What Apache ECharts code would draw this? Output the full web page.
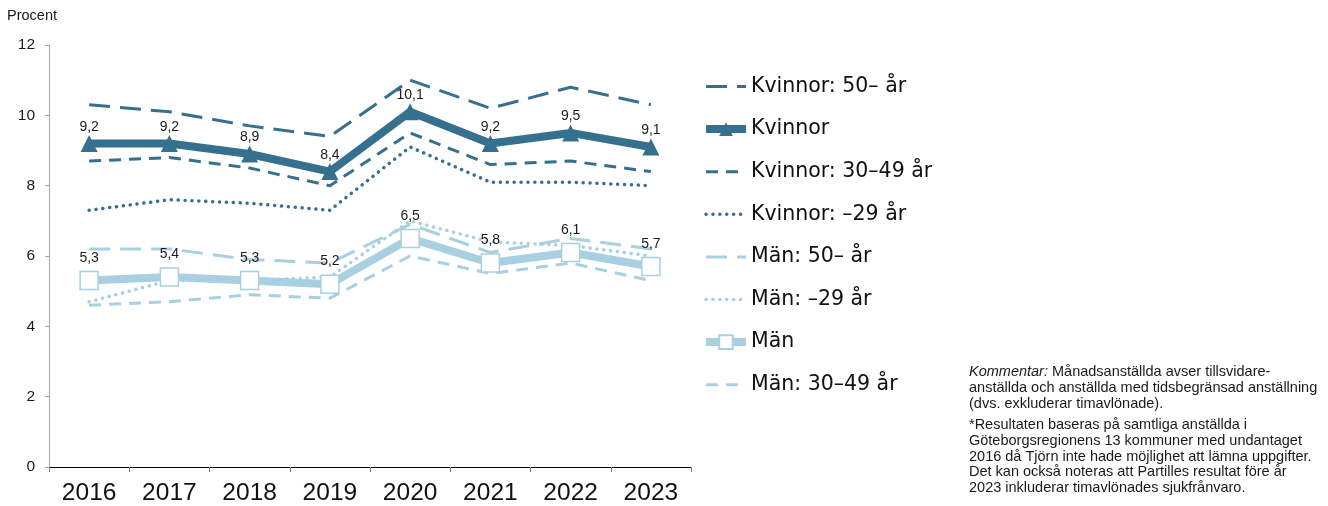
<!DOCTYPE html>
<html>
<head>
<meta charset="utf-8">
<script src="https://cdn.jsdelivr.net/npm/echarts@6/dist/echarts.min.js"></script>
<style>
html,body{margin:0;padding:0;background:#fff;}
#chart{width:1328px;height:506px;}
</style>
</head>
<body>
<div id="chart"></div>
<script>
const years = ['2016','2017','2018','2019','2020','2021','2022','2023'];
const yTicks = [0, 2, 4, 6, 8, 10, 12];

const kvinnor50 = [10.3, 10.1, 9.7, 9.4, 11.0, 10.2, 10.8, 10.3];
const kvinnor = [9.2, 9.2, 8.9, 8.4, 10.1, 9.2, 9.5, 9.1];
const kvinnor3049 = [8.7, 8.8, 8.5, 8.0, 9.5, 8.6, 8.7, 8.4];
const kvinnor29 = [7.3, 7.6, 7.5, 7.3, 9.1, 8.1, 8.1, 8.0];
const man50 = [6.2, 6.2, 5.9, 5.8, 6.9, 6.1, 6.5, 6.2];
const man29 = [4.7, 5.3, 5.3, 5.4, 7.0, 6.4, 6.3, 6.0];
const man = [5.3, 5.4, 5.3, 5.2, 6.5, 5.8, 6.1, 5.7];
const man3049 = [4.6, 4.7, 4.9, 4.8, 6.0, 5.5, 5.8, 5.3];

const names = ['Kvinnor: 50\u2013 år','Kvinnor','Kvinnor: 30\u201349 år','Kvinnor: \u201329 år','Män: 50\u2013 år','Män: \u201329 år','Män','Män: 30\u201349 år'];
const mainNames = ['Kvinnor', 'Män'];

const DARK = '#35718f';
const LIGHT = '#a9d0e1';
const fmt = v => String(v).replace('.', ',');
const lblFont = "'Liberation Sans Narrow', 'Liberation Sans', Arial, sans-serif";
const baseFont = "'Liberation Sans', Arial, sans-serif";

function thin(name, data, color, type, dotted) {
  return {
    name, type: 'line', data, symbol: 'none', z: 2,
    lineStyle: { color, width: dotted ? 3.5 : 3, type, cap: dotted ? 'round' : 'butt' },
    itemStyle: { color },
    emphasis: { disabled: true }, animation: false
  };
}

const series = [
  thin(names[0], kvinnor50, DARK, [21, 10], false),
  {
    name: names[1], type: 'line', data: kvinnor, z: 5,
    symbol: 'triangle', symbolSize: 17,
    lineStyle: { color: DARK, width: 8 },
    itemStyle: { color: DARK },
    label: { show: true, position: 'top', distance: 1, formatter: p => fmt(p.value), fontSize: 14, color: '#1a1a1a', fontFamily: lblFont },
    emphasis: { disabled: true }, animation: false
  },
  thin(names[2], kvinnor3049, DARK, [12, 8], false),
  thin(names[3], kvinnor29, DARK, [0.1, 6.8], true),
  thin(names[4], man50, LIGHT, [21, 10], false),
  thin(names[5], man29, LIGHT, [0.1, 6.8], true),
  {
    name: names[6], type: 'line', data: man, z: 5,
    symbol: 'rect', symbolSize: 18,
    lineStyle: { color: LIGHT, width: 8 },
    itemStyle: { color: '#ffffff', borderColor: LIGHT, borderWidth: 1.5 },
    label: { show: true, position: 'top', distance: 6, formatter: p => fmt(p.value), fontSize: 14, color: '#1a1a1a', fontFamily: lblFont },
    emphasis: { disabled: true }, animation: false
  },
  thin(names[7], man3049, LIGHT, [12, 8], false)
];

const legendData = names.map(n => mainNames.indexOf(n) >= 0 ? { name: n } : { name: n, itemStyle: { opacity: 0 } });

const chart = echarts.init(document.getElementById('chart'), null, { renderer: 'canvas' });
chart.setOption({
  animation: false,
  backgroundColor: '#ffffff',
  grid: { left: 49, right: 637, top: 45, bottom: 39, containLabel: false },
  xAxis: {
    type: 'category', data: years, boundaryGap: true,
    axisLine: { lineStyle: { color: '#000000', width: 1 } },
    axisTick: { show: true, length: 5, lineStyle: { color: '#808080' } },
    axisLabel: { fontSize: 24.5, color: '#111111', margin: 14, fontFamily: baseFont },
    splitLine: { show: false }
  },
  yAxis: {
    type: 'value', min: yTicks[0], max: yTicks[yTicks.length - 1], interval: 2,
    name: 'Procent', nameLocation: 'end', nameGap: 22,
    nameTextStyle: { fontSize: 14.5, color: '#1a1a1a', align: 'left', padding: [0, 0, 0, -42], fontFamily: baseFont },
    axisLine: { show: true, lineStyle: { color: '#a6a6a6', width: 1 } },
    axisTick: { show: true, length: 4, lineStyle: { color: '#a6a6a6' } },
    axisLabel: { fontSize: 15.5, color: '#1a1a1a', margin: 14, fontFamily: baseFont },
    splitLine: { show: false }
  },
  legend: {
    orient: 'vertical', left: 702, top: 76, padding: 0,
    itemWidth: 40, itemHeight: 17, itemGap: 21.6, itemTextGap: 2,
    data: legendData,
    lineStyle: { width: 'inherit' },
    textStyle: { fontSize: 20.5, color: '#111111', fontFamily: "'DejaVu Sans', sans-serif", lineHeight: 20 },
    selectedMode: false
  },
  graphic: [
    {
      type: 'text', left: 969, top: 364,
      style: {
        text: '{i|Kommentar:} Månadsanställda avser tillsvidare-\nanställda och anställda med tidsbegränsad anställning\n(dvs. exkluderar timavlönade).',
        fontSize: 14.5, lineHeight: 15.8, fill: '#1a1a1a',
        fontFamily: baseFont,
        rich: { i: { fontStyle: 'italic', fontSize: 14.5, lineHeight: 15.8, fill: '#1a1a1a', fontFamily: baseFont } }
      }
    },
    {
      type: 'text', left: 969, top: 417,
      style: {
        text: '*Resultaten baseras på samtliga anställda i\nGöteborgsregionens 13 kommuner med undantaget\n2016 då Tjörn inte hade möjlighet att lämna uppgifter.\nDet kan också noteras att Partilles resultat före år\n2023 inkluderar timavlönades sjukfrånvaro.',
        fontSize: 14.5, lineHeight: 15.8, fill: '#1a1a1a',
        fontFamily: baseFont
      }
    }
  ],
  series
});
</script>
</body>
</html>
